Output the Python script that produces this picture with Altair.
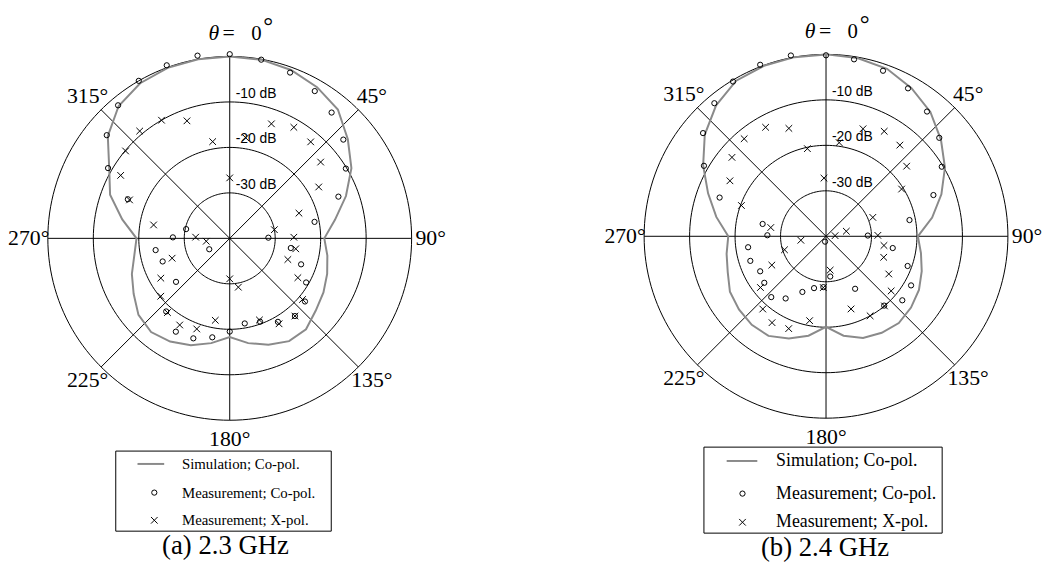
import altair as alt
import pandas as pd

# ---------------- data ----------------
SIM_ANG = list(range(0, 360, 10))
SIM_23 = [0, -0.1, -0.6, -1.6, -3.0, -6.1, -9.1, -12.8, -16.5, -19.2,
          -18.2, -17.2, -16.2, -15.3, -13.9, -13.9, -15.1, -16.6, -18.3,
          -16.6, -15.0, -13.8, -13.1, -13.8, -15.6, -17.1, -18.7, -19.5,
          -16.0, -12.0, -9.4, -5.0, -2.0, -0.6, -0.1, 0]
SIM_24 = [0, -0.2, -0.8, -2.4, -4.3, -7.0, -9.8, -13.0, -16.3, -19.8,
          -18.8, -17.6, -16.4, -15.6, -15.1, -15.5, -16.2, -17.8, -20.1,
          -17.8, -16.1, -14.7, -14.6, -15.0, -15.6, -17.0, -17.8, -18.5,
          -15.5, -12.4, -8.8, -5.2, -2.4, -0.5, -0.1, 0]

CO23_ANG = [0, 10, 20, 30, 39, 49, 59, 69, 79, 89, 99, 110, 120, 130, 140, 150,
            160, 170, 180, 190, 200, 210, 221, 231, 242, 251, 261, 271, 282, 291,
            300, 310, 320, 330, 340, 350]
CO23_DB = [0.5, -0.1, -1.2, -2.6, -4.4, -6.9, -10.2, -14.4, -21.0, -31.5, -26.4,
           -23.3, -20.6, -18.4, -17.7, -18.8, -20.5, -21.0, -19.5, -17.9, -16.6,
           -16.3, -18.7, -24.8, -34.9, -24.4, -23.5, -27.5, -30.2, -16.0, -9.1,
           -4.7, -1.8, 0.0, 0.5, 0.8]
XP23_ANG = [0, 9, 20, 30, 40, 50, 60, 70, 79, 89, 99, 110, 120, 130, 140, 150, 160,
            170, 180, 190, 200, 210, 220, 230, 240, 251, 263, 272, 280, 291, 300,
            310, 320, 330, 340, 350]
XP23_DB = [-26.7, -17.6, -13.2, -11.8, -12.3, -13.9, -17.4, -23.8, -30.0, -25.9,
           -25.3, -26.4, -22.7, -19.1, -17.7, -18.3, -20.9, -29.1, -31.1, -21.7,
           -18.8, -18.0, -18.7, -20.2, -22.5, -26.6, -34.8, -32.5, -23.0, -16.4,
           -12.3, -10.1, -9.2, -10.0, -12.5, -18.4]

CO24_ANG = [0, 9, 19, 29, 39, 49, 59, 69, 79, 89, 100, 110, 120, 130, 140, 151,
            174, 183, 190, 193, 203, 213, 222, 233, 242, 252, 262, 271, 281, 290,
            300, 310, 320, 329, 339, 349]
CO24_DB = [-0.2, -0.6, -1.5, -2.8, -4.7, -7.0, -10.3, -14.7, -21.3, -30.8, -25.1,
           -20.9, -18.4, -18.1, -20.1, -26.8, -31.1, -28.8, -38.8, -28.3, -26.7,
           -23.7, -22.0, -23.0, -23.6, -22.5, -22.7, -27.1, -25.8, -15.1, -9.0,
           -4.7, -1.8, -0.3, 0.4, 0.5]
XP24_ANG = [358, 8, 19, 29, 39, 49, 58, 68, 76, 86, 89, 99, 110, 121, 130, 140,
            151, 161, 173, 183, 191, 202, 212, 221, 232, 242, 252, 261, 279, 290,
            300, 310, 320, 331, 341, 348]
XP24_DB = [-27.2, -19.2, -15.0, -13.6, -14.2, -16.5, -20.4, -28.9, -35.4, -38.0,
           -28.6, -27.1, -26.5, -23.9, -21.3, -20.0, -20.0, -23.1, -32.5, -28.7,
           -21.1, -18.1, -17.6, -18.8, -21.7, -26.5, -30.4, -34.4, -27.7, -20.2,
           -15.6, -13.0, -12.0, -12.6, -14.9, -20.3]

RING_LEVELS = [-30, -20, -10, 0]
RING_LABEL_LEVELS = [-10, -20, -30]
RING_LABELS = ["-10 dB", "-20 dB", "-30 dB"]
SPOKE_ANG = [0, 45, 90, 135]
LABEL_ANG = [45, 90, 135, 180, 225, 270, 315]
LEGEND_TEXT = ["Simulation; Co-pol.", "Measurement; Co-pol.", "Measurement; X-pol."]
CAPTIONS = ["(a) 2.3 GHz", "(b) 2.4 GHz"]

SERIF = "Liberation Serif"
SANS = "Liberation Sans"
GRAY = "#8a8a8a"
XSHAPE = "M-1,-1L1,1M1,-1L-1,1"

PX = "(datum.db + 40) * sin(datum.ang * PI / 180)"
PY = "(datum.db + 40) * cos(datum.ang * PI / 180)"

W, H = 500, 554


def panel(sim, co_ang, co_db, xp_ang, xp_db, caption, xdom, ydom, leg):
    xs = alt.Scale(domain=xdom, nice=False, zero=False)
    ys = alt.Scale(domain=ydom, nice=False, zero=False)
    X = alt.X("px:Q", scale=xs, axis=None)
    Y = alt.Y("py:Q", scale=ys, axis=None)
    one = pd.DataFrame({"a": [0]})

    ring_df = pd.DataFrame([{"lvl": l, "db": l, "ang": a}
                            for l in RING_LEVELS for a in range(0, 360, 2)])
    rings = alt.Chart(ring_df).mark_line(
        color="black", strokeWidth=1, interpolate="linear-closed"
    ).transform_calculate(px=PX, py=PY).encode(
        x=X, y=Y, detail="lvl:N", order="ang:Q")

    spokes = alt.Chart(pd.DataFrame({"ang": SPOKE_ANG})).mark_rule(
        color="black", strokeWidth=1
    ).transform_calculate(
        px="40 * sin(datum.ang * PI / 180)", py="40 * cos(datum.ang * PI / 180)",
        px2="-40 * sin(datum.ang * PI / 180)", py2="-40 * cos(datum.ang * PI / 180)"
    ).encode(x=X, y=Y, x2="px2:Q", y2="py2:Q")

    sim_line = alt.Chart(pd.DataFrame({"ang": SIM_ANG, "db": sim})).mark_line(
        color=GRAY, strokeWidth=2, interpolate="linear-closed"
    ).transform_calculate(px=PX, py=PY).encode(x=X, y=Y, order="ang:Q")

    co = alt.Chart(pd.DataFrame({"ang": co_ang, "db": co_db})).mark_point(
        shape="circle", filled=False, size=28, color="black", strokeWidth=1, opacity=1
    ).transform_calculate(px=PX, py=PY).encode(x=X, y=Y)

    xp = alt.Chart(pd.DataFrame({"ang": xp_ang, "db": xp_db})).mark_point(
        shape=XSHAPE, filled=False, size=45, color="black", strokeWidth=1, opacity=1
    ).transform_calculate(px=PX, py=PY).encode(x=X, y=Y)

    ring_lbl = alt.Chart(pd.DataFrame({"db": RING_LABEL_LEVELS, "t": RING_LABELS})).mark_text(
        font=SANS, fontSize=14, align="left", baseline="middle", dx=6, dy=-8, color="black"
    ).transform_calculate(px="0", py="datum.db + 40").encode(x=X, y=Y, text="t:N")

    ang_lbl = alt.Chart(pd.DataFrame({"ang": LABEL_ANG})).mark_text(
        font=SERIF, fontSize=22, align="center", baseline="middle", color="black"
    ).transform_calculate(
        px="44.2 * sin(datum.ang * PI / 180)", py="44.2 * cos(datum.ang * PI / 180)",
        t="datum.ang + '°'"
    ).encode(x=X, y=Y, text="t:N")

    base0 = alt.Chart(one).transform_calculate(px="0", py="0")
    t_theta = base0.mark_text(font=SERIF, fontSize=22, fontStyle="italic", align="center",
                              baseline="alphabetic", dx=-16, dy=-201, color="black").encode(
        x=X, y=Y, text=alt.value("θ"))
    t_eq = base0.mark_text(font=SERIF, fontSize=22, align="center", baseline="alphabetic",
                           dx=-1, dy=-201, color="black").encode(x=X, y=Y, text=alt.value("="))
    t_zero = base0.mark_text(font=SERIF, fontSize=21, align="center", baseline="alphabetic",
                             dx=27, dy=-201, color="black").encode(x=X, y=Y, text=alt.value("0"))
    t_deg = base0.mark_text(font=SERIF, fontSize=25, align="center", baseline="alphabetic",
                            dx=39, dy=-207, color="black").encode(x=X, y=Y, text=alt.value("°"))

    bx0, bx1, by0, by1, lx0, lx1, sx, tx, rows, fs = leg
    box = alt.Chart(one).mark_rect(fillOpacity=0, stroke="black", strokeWidth=1).encode(
        x=alt.value(bx0), x2=alt.value(bx1), y=alt.value(by0), y2=alt.value(by1))
    l_line = alt.Chart(one).mark_rule(color=GRAY, strokeWidth=2).encode(
        x=alt.value(lx0), x2=alt.value(lx1), y=alt.value(rows[0]))
    l_co = alt.Chart(one).mark_point(shape="circle", filled=False, size=28, color="black",
                                     strokeWidth=1, opacity=1).encode(
        x=alt.value(sx), y=alt.value(rows[1]))
    l_xp = alt.Chart(one).mark_point(shape=XSHAPE, filled=False, size=45, color="black",
                                     strokeWidth=1, opacity=1).encode(
        x=alt.value(sx), y=alt.value(rows[2]))
    l_txt = [alt.Chart(one).mark_text(font=SERIF, fontSize=fs, align="left", baseline="middle",
                                      color="black").encode(
        x=alt.value(tx), y=alt.value(rows[i]), text=alt.value(LEGEND_TEXT[i])) for i in range(3)]
    cap = alt.Chart(one).mark_text(font=SERIF, fontSize=27, align="center", baseline="middle",
                                   color="black").encode(
        x=alt.value((bx0 + bx1) / 2 + 2), y=alt.value(by1 + 15), text=alt.value(caption))

    return alt.layer(rings, spokes, sim_line, co, xp, ring_lbl, ang_lbl,
                     t_theta, t_eq, t_zero, t_deg, box, l_line, l_co, l_xp, *l_txt, cap
                     ).properties(width=W, height=H)


U = 4.6  # px per dB
left = panel(SIM_23, CO23_ANG, CO23_DB, XP23_ANG, XP23_DB, CAPTIONS[0],
             [-221.3 / U, -221.3 / U + W / U], [-327.2 / U, -327.2 / U + H / U],
             (106, 324, 442, 523, 128, 155, 145, 173, [455, 484, 512], 15))
right = panel(SIM_24, CO24_ANG, CO24_DB, XP24_ANG, XP24_DB, CAPTIONS[1],
              [-304.5 / U, -304.5 / U + W / U], [-329.3 / U, -329.3 / U + H / U],
              (181, 422, 438, 525, 204, 235, 220, 254, [452, 485, 514], 18))

chart = alt.hconcat(left, right, spacing=20).properties(padding=0).configure_view(strokeWidth=0)
chart.save("out.html", embed_options={"renderer": "svg", "actions": False})
